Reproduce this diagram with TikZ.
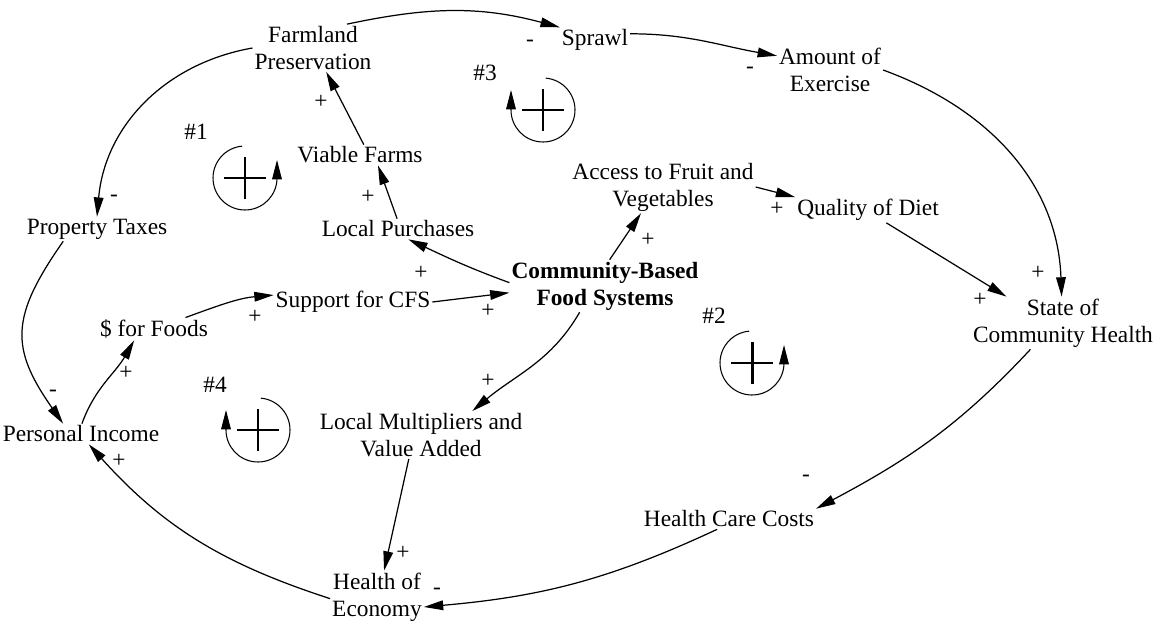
\documentclass[tikz,border=0pt]{standalone}
\usepackage{fontspec}
\setmainfont{Liberation Serif}
\usepackage{tikz}
\usetikzlibrary{arrows.meta}
\def\loopr{32}
\tikzset{
  loopring/.style={line width=0.6pt, -{Triangle[length=11pt,width=5.5pt]}},
  loopsign/.style={line width=1.7pt}
}

\begin{document}
\begin{tikzpicture}[
  x=0.02cm, y=0.02cm,
  var/.style={
    inner sep=1pt,
    align=center,
    font=\fontsize{13.3}{15.4}\selectfont
  },
  sign/.style={
    inner sep=0pt,
    font=\fontsize{13.3}{15.4}\selectfont
  },
  link/.style={
    line width=0.7pt,
    -{Triangle[length=11pt,width=5.5pt]}
  }
]
\useasboundingbox (0,0) rectangle (1163,-628);

  \node[var] (fp) at (313,-48) {Farmland\\Preservation};
  \node[var] (sp) at (595,-40) {Sprawl};
  \node[var] (ae) at (830,-70) {Amount of\\Exercise};
  \node[var] (pt) at (97,-229) {Property Taxes};
  \node[var] (vf) at (360,-155) {Viable Farms};
  \node[var] (lp) at (398,-229) {Local Purchases};
  \node[var] (af) at (663,-187) {Access to Fruit and\\Vegetables};
  \node[var] (qd) at (868,-210) {Quality of Diet};
  \node[var,font=\fontsize{13.3}{15.4}\selectfont\bfseries] (cb) at (605,-286) {Community-Based\\Food Systems};
  \node[var] (sc) at (353,-302) {Support for CFS};
  \node[var] (ff) at (154,-329) {\$ for Foods};
  \node[var] (sh) at (1063,-323) {State of\\Community Health};
  \node[var] (pi) at (81,-434) {Personal Income};
  \node[var] (lm) at (421,-435) {Local Multipliers and\\Value Added};
  \node[var] (hc) at (729,-519) {Health Care Costs};
  \node[var] (he) at (377,-597) {Health of\\Economy};

  \node[sign] (n1) at (196,-132) {\#1};
  \node[sign] (n2) at (714,-316) {\#2};
  \node[sign] (n3) at (485,-73) {\#3};
  \node[sign] (n4) at (215,-385) {\#4};


  \draw[link] (fp.35) to[out=12,in=165] (sp.north west);
  \draw[link] (sp.10) to[out=0,in=170] (ae.165);
  \draw[link] (ae.east) to[out=-20,in=92] (sh.93);
  \draw[link] (qd.-35) -- (sh.155);
  \draw[link] (af.east) -- (qd.north west);
  \draw[link] (cb.80) -- (af.-130);
  \draw[link] (cb.178) to[out=160,in=-25] (lp.-45);
  \draw[link] (sc.east) -- (cb.184);
  \draw[link] (ff.20) to[out=20,in=185] (sc.175);
  \draw[link] (pi.85) to[out=70,in=240] (ff.-150);
  \draw[link] (pt.-160) to[out=-125,in=125,looseness=1.3] (pi.150);
  \draw[link] (fp.west) to[out=190,in=85] (pt.north);
  \draw[link] (vf.70) -- (fp.-61);
  \draw[link] (lp.95) -- (vf.-30);
  \draw[link] (cb.-134) to[out=-120,in=40] (lm.25);
  \draw[link] (lm.-117) -- (he.75);
  \draw[link] (he.182) to[out=162,in=-48] (pi.-53);
  \draw[link] (sh.-141) to[out=-133,in=28] (hc.north east);
  \draw[link] (hc.-139) to[out=-155,in=5] (he.-12);


  \node[sign] (s1) at (530,-43) {-};
  \node[sign] (s2) at (750,-70) {-};
  \node[sign] (s3) at (1038,-273) {+};
  \node[sign] (s4) at (980,-300) {+};
  \node[sign] (s5) at (777,-209) {+};
  \node[sign] (s6) at (648,-240) {+};
  \node[sign] (s7) at (421,-273) {+};
  \node[sign] (s8) at (488,-311) {+};
  \node[sign] (s9) at (255,-317) {+};
  \node[sign] (s10) at (126,-373) {+};
  \node[sign] (s11) at (53,-393) {-};
  \node[sign] (s12) at (114,-198) {-};
  \node[sign] (s13) at (321,-102) {+};
  \node[sign] (s14) at (368,-197) {+};
  \node[sign] (s15) at (488,-381) {+};
  \node[sign] (s16) at (403,-553) {+};
  \node[sign] (s17) at (119,-461) {+};
  \node[sign] (s18) at (806,-478) {-};
  \node[sign] (s19) at (437,-591) {-};


  \coordinate (r1) at (245,-178);
  \coordinate (r2) at (752,-363);
  \coordinate (r3) at (543,-110);
  \coordinate (r4) at (258,-430);

  \draw[loopring] (r1) ++(95:\loopr) arc[start angle=95,end angle=360,radius=\loopr] -- ++(0,18);
  \draw[loopring] (r2) ++(95:\loopr) arc[start angle=95,end angle=360,radius=\loopr] -- ++(0,18);
  \draw[loopring] (r3) ++(85:\loopr) arc[start angle=85,end angle=-180,radius=\loopr] -- ++(0,20);
  \draw[loopring] (r4) ++(85:\loopr) arc[start angle=85,end angle=-180,radius=\loopr] -- ++(0,20);

  \draw[loopsign] (r1) ++(-21,0) -- ++(42,0) (r1) ++(0,-21) -- ++(0,42);
  \draw[loopsign] (r2) ++(-21,0) -- ++(42,0) (r2) ++(0,-21) -- ++(0,42);
  \draw[loopsign] (r3) ++(-21,0) -- ++(42,0) (r3) ++(0,-21) -- ++(0,42);
  \draw[loopsign] (r4) ++(-21,0) -- ++(42,0) (r4) ++(0,-21) -- ++(0,42);

\end{tikzpicture}
\end{document}
